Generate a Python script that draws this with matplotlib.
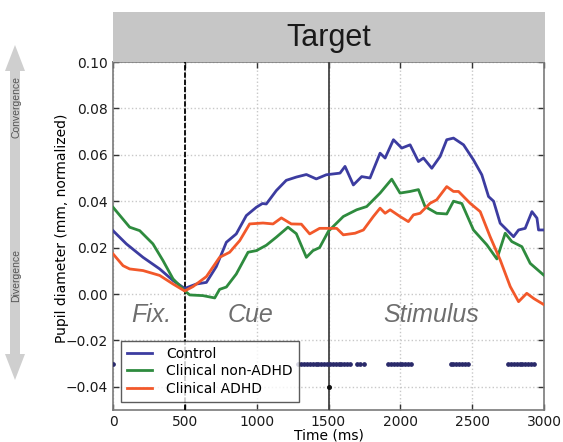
import matplotlib
matplotlib.use("Agg")
import matplotlib.pyplot as plt
from matplotlib.patches import Rectangle, Polygon

# ---------------- data ----------------
control_t = [0, 93, 209, 325, 418, 499, 580, 650, 719, 789, 858, 928, 998, 1040, 1067, 1137,
             1206, 1276, 1346, 1415, 1485, 1580, 1615, 1673, 1731, 1789, 1859, 1894, 1952,
             2010, 2068, 2126, 2161, 2219, 2277, 2323, 2370, 2440, 2509, 2567, 2614, 2649,
             2695, 2742, 2788, 2823, 2869, 2916, 2951, 2962, 2997]
control_v = [0.0273, 0.0216, 0.0158, 0.0108, 0.0058, 0.0024, 0.0043, 0.0050, 0.0118, 0.0223,
             0.0259, 0.0338, 0.0374, 0.0390, 0.0388, 0.0446, 0.0490, 0.0504, 0.0515, 0.0496,
             0.0514, 0.0521, 0.0550, 0.0470, 0.0506, 0.0500, 0.0607, 0.0586, 0.0665, 0.0629,
             0.0643, 0.0571, 0.0586, 0.0542, 0.0593, 0.0665, 0.0672, 0.0643, 0.0578, 0.0514,
             0.0420, 0.0400, 0.0305, 0.0276, 0.0247, 0.0276, 0.0283, 0.0355, 0.0327, 0.0276,
             0.0276]

nonadhd_t = [0, 116, 186, 278, 348, 418, 499, 534, 626, 708, 742, 789, 858, 940, 998, 1067,
             1137, 1218, 1276, 1346, 1392, 1438, 1500, 1603, 1696, 1766, 1859, 1940, 1998,
             2068, 2126, 2172, 2253, 2323, 2370, 2428, 2509, 2602, 2672, 2730, 2776, 2846,
             2904, 2997]
nonadhd_v = [0.0374, 0.0288, 0.0273, 0.0216, 0.0144, 0.0065, 0.0014, -0.0004, -0.0007, -0.0017,
             0.0020, 0.0030, 0.0086, 0.0180, 0.0187, 0.0210, 0.0245, 0.0288, 0.0260, 0.0158,
             0.0187, 0.0200, 0.0271, 0.0334, 0.0363, 0.0377, 0.0435, 0.0495, 0.0435, 0.0442,
             0.0450, 0.0377, 0.0348, 0.0345, 0.0400, 0.0390, 0.0276, 0.0212, 0.0151, 0.0262,
             0.0226, 0.0204, 0.0132, 0.0082]

adhd_t = [0, 70, 116, 209, 325, 418, 499, 557, 650, 742, 812, 882, 951, 1044, 1114, 1172,
          1241, 1311, 1369, 1438, 1508, 1557, 1603, 1685, 1743, 1812, 1859, 1894, 1929, 1998,
          2056, 2091, 2138, 2207, 2253, 2323, 2370, 2405, 2486, 2556, 2625, 2695, 2765, 2823,
          2880, 2930, 2997]
adhd_v = [0.0173, 0.0122, 0.0108, 0.0101, 0.0080, 0.0043, 0.0013, 0.0032, 0.0075, 0.0158,
          0.0180, 0.0230, 0.0302, 0.0306, 0.0302, 0.0328, 0.0302, 0.0301, 0.0259, 0.0283,
          0.0283, 0.0283, 0.0255, 0.0262, 0.0276, 0.0334, 0.0370, 0.0348, 0.0363, 0.0334,
          0.0312, 0.0341, 0.0348, 0.0391, 0.0406, 0.0463, 0.0442, 0.0442, 0.0391, 0.0355,
          0.0247, 0.0147, 0.0032, -0.0033, 0.0003, -0.0020, -0.0045]

sig_t = [0,
         1290, 1310, 1330, 1350, 1370, 1390, 1410, 1430, 1450, 1470, 1490, 1510, 1530, 1550,
         1570, 1590, 1610, 1630, 1650,
         1700, 1720, 1745,
         1915, 1935, 1955, 1975, 1995, 2015, 2035, 2055, 2075,
         2350, 2370, 2390, 2410, 2430, 2450, 2470,
         2750, 2770, 2790, 2810, 2830, 2850, 2870, 2890, 2910, 2930]
sig_level = -0.03
sig2_t = [1500]
sig2_level = -0.04

phase_labels = ["Fix.", "Cue", "Stimulus"]
phase_x = [270, 955, 2217]
event_times = [500, 1500]

xticks = [0, 500, 1000, 1500, 2000, 2500, 3000]
yticks = [-0.04, -0.02, 0.00, 0.02, 0.04, 0.06, 0.08, 0.10]

series_labels = ["Control", "Clinical non-ADHD", "Clinical ADHD"]
colors = ["#3c3ca0", "#2e8b3e", "#f2582a"]

# ---------------- figure ----------------
W, H = 563, 442
fig = plt.figure(figsize=(W / 100, H / 100), dpi=100)
fig.patch.set_facecolor("white")

ax = fig.add_axes([113 / W, 1 - 410 / H, 431 / W, 348 / H])

ax.set_xlim(0, 3000)
ax.set_ylim(-0.05, 0.10)
ax.set_xticks(xticks)
ax.set_yticks(yticks)
ax.set_xticklabels([str(x) for x in xticks])
ax.set_yticklabels(["\u22120.04", "\u22120.02", "0.00", "0.02", "0.04", "0.06", "0.08", "0.10"])
ax.tick_params(direction="in", length=4, width=1, colors="#333333", labelsize=10,
               top=True, right=True, labelcolor="#1a1a1a")
ax.grid(True, color="#c8c8c8", linestyle=":", linewidth=1.0)
for s in ax.spines.values():
    s.set_color("#7a7a7a")
    s.set_linewidth(1.2)

ax.axvline(event_times[0], color="black", linestyle="--", linewidth=1.3, dashes=(3, 1), zorder=3)
ax.axvline(event_times[1], color="#444444", linestyle="-", linewidth=1.3, zorder=3)

ts = [control_t, nonadhd_t, adhd_t]
vs = [control_v, nonadhd_v, adhd_v]
lines = []
for t, v, c, lab in zip(ts, vs, colors, series_labels):
    ln, = ax.plot(t, v, color=c, linewidth=2.0, label=lab, zorder=4)
    lines.append(ln)

ax.plot(sig_t, [sig_level] * len(sig_t), linestyle="none", marker="o", markersize=2.4,
        color="#2a2a6a", zorder=4)
ax.plot(sig2_t, [sig2_level] * len(sig2_t), linestyle="none", marker="o", markersize=2.6,
        color="#111111", zorder=4)

for lab, x in zip(phase_labels, phase_x):
    ax.text(x, -0.009, lab, ha="center", va="center", fontsize=18, style="italic",
            color="#6e6e6e", family="Liberation Sans", zorder=2)

leg = ax.legend(handles=lines, loc="lower left", bbox_to_anchor=(0.0186, 0.023),
                borderaxespad=0, fontsize=10, frameon=True, fancybox=False,
                handlelength=1.8, handletextpad=1.0, labelspacing=0.25,
                borderpad=0.45)
leg.get_frame().set_edgecolor("#333333")
leg.get_frame().set_linewidth(1.0)
leg.set_zorder(10)

ax.set_xlabel("Time (ms)", fontsize=10, labelpad=0)
fig.text(62 / W, 1 - 228 / H, "Pupil diameter (mm, normalized)", rotation=90,
         ha="center", va="center", fontsize=10)

# title box
fig.add_artist(Rectangle((113 / W, 1 - 62 / H), 432 / W, 50 / H, transform=fig.transFigure,
                         facecolor="#c6c6c6", edgecolor="none"))
fig.text((113 + 216) / W, 1 - 38 / H, "Target", ha="center", va="center", fontsize=22,
         family="Liberation Sans", color="#1a1a1a")

# left convergence/divergence arrow
pts = [(15, 45), (25, 71), (20, 71), (20, 354), (25, 354), (15, 380), (5, 354), (10, 354),
       (10, 71), (5, 71)]
fig.add_artist(Polygon([(x / W, 1 - y / H) for x, y in pts], closed=True,
                       transform=fig.transFigure, facecolor="#cfcfcf", edgecolor="none"))
fig.text(16 / W, 1 - 107 / H, "Convergence", rotation=90, ha="center", va="center",
         fontsize=7.5, color="#555555", family="Liberation Sans")
fig.text(16 / W, 1 - 275 / H, "Divergence", rotation=90, ha="center", va="center",
         fontsize=7.5, color="#555555", family="Liberation Sans")

fig.savefig("out.png", dpi=100)
